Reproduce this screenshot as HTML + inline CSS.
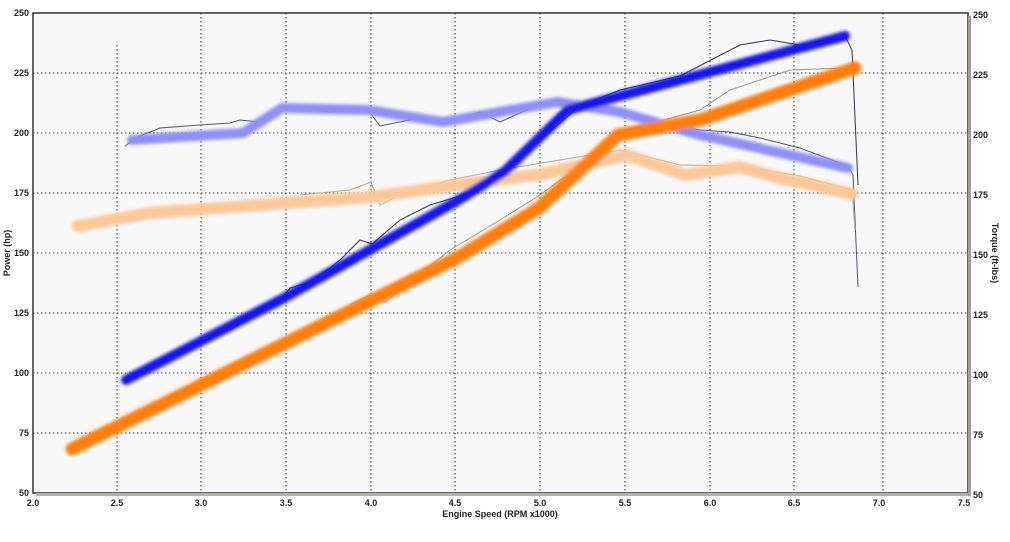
<!DOCTYPE html>
<html><head><style>body{margin:0;background:#fff}svg{display:block}text{font-family:"Liberation Sans",sans-serif;font-weight:bold;font-size:9px;fill:#222}</style></head><body>
<svg width="1010" height="542" viewBox="0 0 1010 542">
<defs><filter id="b" x="-10%" y="-10%" width="120%" height="120%"><feGaussianBlur stdDeviation="1.5"/></filter></defs>
<rect width="1010" height="542" fill="#fff"/>
<rect x="33" y="13" width="935" height="480" fill="#f8f8f8"/>
<g stroke="#333" stroke-width="1" stroke-dasharray="1.5,2.5">
<line x1="117" y1="45" x2="117" y2="493"/><line x1="201" y1="13" x2="201" y2="493"/><line x1="286" y1="13" x2="286" y2="493"/><line x1="371" y1="13" x2="371" y2="493"/><line x1="455" y1="13" x2="455" y2="493"/><line x1="540" y1="13" x2="540" y2="493"/><line x1="625" y1="13" x2="625" y2="493"/><line x1="710" y1="13" x2="710" y2="493"/><line x1="794" y1="13" x2="794" y2="493"/><line x1="883" y1="13" x2="883" y2="493"/>
<line x1="33" y1="73" x2="968" y2="73"/><line x1="33" y1="133" x2="968" y2="133"/><line x1="33" y1="193" x2="968" y2="193"/><line x1="33" y1="253" x2="968" y2="253"/><line x1="33" y1="313" x2="968" y2="313"/><line x1="33" y1="373" x2="968" y2="373"/><line x1="33" y1="433" x2="968" y2="433"/>
</g>
<path d="M33 493V13H968V493Z" fill="none" stroke="#333" stroke-width="1.5"/>
<rect x="968" y="16" width="3" height="480" fill="#a99"/>
<rect x="36" y="493" width="932" height="3" fill="#b8b0a8"/>
<g fill="none" stroke-width="1">
<path d="M125 146 L140 136 L160 128 L200 125 L230 123 L240 120 L260 122 L280 110 L300 108 L330 112 L368 110 L380 126 L420 118 L450 123 L480 112 L500 122 L540 104 L560 100 L600 108 L650 120 L700 130 L730 132 L760 138 L800 148 L848 166 L853 175 L858 287" stroke="#556"/>
<path d="M230 330 L250 318 L280 300 L290 288 L310 282 L330 268 L340 260 L360 240 L372 244 L400 220 L430 205 L460 196 L500 172 L540 140 L580 106 L620 90 L680 76 L740 45 L770 40 L800 45 L845 36 L852 50 L858 185" stroke="#334"/>
<path d="M300 195 L350 190 L371 182 L380 205 L400 195 L450 180 L500 170 L560 160 L620 150 L680 165 L740 166 L800 176 L852 190 L855 230" stroke="#aa9" />
<path d="M350 305 L370 295 L385 302 L400 290 L450 250 L500 220 L540 195 L580 165 L620 132 L700 110 L730 90 L790 70 L845 68 L850 75" stroke="#998"/>
</g>
<g fill="none" stroke-linecap="round" stroke-linejoin="round" filter="url(#b)">
<polyline points="132,140 243,133 282,108 368,110 443,122 557,102 620,112 700,135 848,168" stroke="#8f8ff5" stroke-width="10"/>
<polyline points="78,226 150,213 371,197 457,185 543,174 627,155 685,175 740,167 780,178 852,194" stroke="#fcc89a" stroke-width="12"/>
<polyline points="126,380 286,297 375,247 457,201 504,172 568,110 845,36" stroke="#1515e8" stroke-width="10"/>
<polyline points="72,449 457,258 539,208 618,135 700,120 855,68" stroke="#ff7f0e" stroke-width="13"/>
</g>
<g text-anchor="end">
<text x="29" y="16">250</text><text x="29" y="76">225</text><text x="29" y="136">200</text><text x="29" y="196">175</text><text x="29" y="256">150</text><text x="29" y="316">125</text><text x="29" y="376">100</text><text x="29" y="436">75</text><text x="29" y="496">50</text>
</g>
<g>
<text x="973" y="18">250</text><text x="973" y="78">225</text><text x="973" y="138">200</text><text x="973" y="198">175</text><text x="973" y="258">150</text><text x="973" y="318">125</text><text x="973" y="378">100</text><text x="973" y="438">75</text><text x="973" y="498">50</text>
</g>
<g text-anchor="middle">
<text x="33" y="506">2.0</text><text x="117" y="506">2.5</text><text x="201" y="506">3.0</text><text x="286" y="506">3.5</text><text x="371" y="506">4.0</text><text x="455" y="506">4.5</text><text x="540" y="506">5.0</text><text x="625" y="506">5.5</text><text x="710" y="506">6.0</text><text x="794" y="506">6.5</text><text x="879" y="506">7.0</text><text x="964" y="506">7.5</text>
<text x="500" y="517">Engine Speed (RPM x1000)</text>
<text transform="translate(10,253) rotate(-90)">Power (hp)</text>
<text transform="translate(992,253) rotate(90)">Torque (ft-lbs)</text>
</g>
</svg></body></html>
